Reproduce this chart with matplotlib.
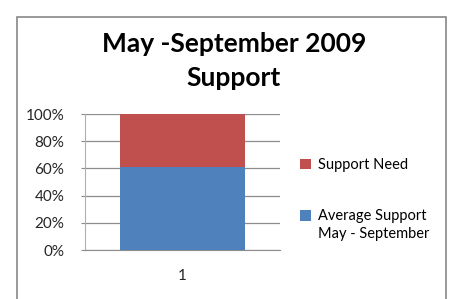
import matplotlib
matplotlib.use('Agg')
import matplotlib.pyplot as plt
from matplotlib.patches import Rectangle

categories = ['1']
support_avg = [61]
support_need = [39]
series_names = ['Average Support', 'Support Need']
series_sub = 'May - September'
yticks = [0, 20, 40, 60, 80, 100]

plt.rcParams['font.family'] = ['Lato', 'DejaVu Sans']

W, H = 449, 299
fig = plt.figure(figsize=(W/100, H/100), dpi=100)
fig.patch.set_facecolor('white')

# outer chart border
fig.patches.append(Rectangle((17/W, -0.05), 429/W, 1 - 17/H + 0.05, transform=fig.transFigure,
                             fill=False, edgecolor='#878787', linewidth=1.2))

ax = fig.add_axes([85/W, 1 - 250/H, 195/W, 136/H])
x = [1]
b1 = ax.bar(x, support_avg, width=0.64, color='#4F81BD', label=series_names[0], zorder=3)
b2 = ax.bar(x, support_need, width=0.64, bottom=support_avg, color='#C0504D', label=series_names[1], zorder=3)

ax.set_xlim(0.5, 1.5)
ax.set_ylim(0, 100)
ax.set_yticks(yticks)
ax.set_yticklabels([str(t) + '%' for t in yticks], fontsize=11, color='#262626')
ax.set_xticks(x)
ax.set_xticklabels(categories, fontsize=11, color='#262626')
ax.tick_params(axis='y', length=3, color='#8c8c8c', pad=12)
ax.tick_params(axis='x', length=0, pad=14)
ax.grid(axis='y', color='#8c8c8c', linewidth=0.9, zorder=0)
for s in ['top', 'right']:
    ax.spines[s].set_visible(False)
ax.spines['bottom'].set_color('#8c8c8c')
ax.spines['left'].set_color('#b0b0b0')

fig.text(234/W, 1 - 44/H, 'May -September 2009', ha='center', va='center',
         fontsize=19, fontweight='bold')
fig.text(234/W, 1 - 78/H, 'Support', ha='center', va='center',
         fontsize=19, fontweight='bold')

leg = fig.legend([b2, b1], [series_names[1], series_names[0]], loc='upper left',
                 bbox_to_anchor=(290/W, 1 - 148/H), frameon=False, fontsize=10.5,
                 handlelength=0.75, handleheight=0.75, handletextpad=0.45, labelspacing=2.55,
                 borderpad=0.2)
fig.text(318/W, 1 - 234/H, series_sub, ha='left', va='center', fontsize=10.5)

fig.savefig('out.png', dpi=100)
